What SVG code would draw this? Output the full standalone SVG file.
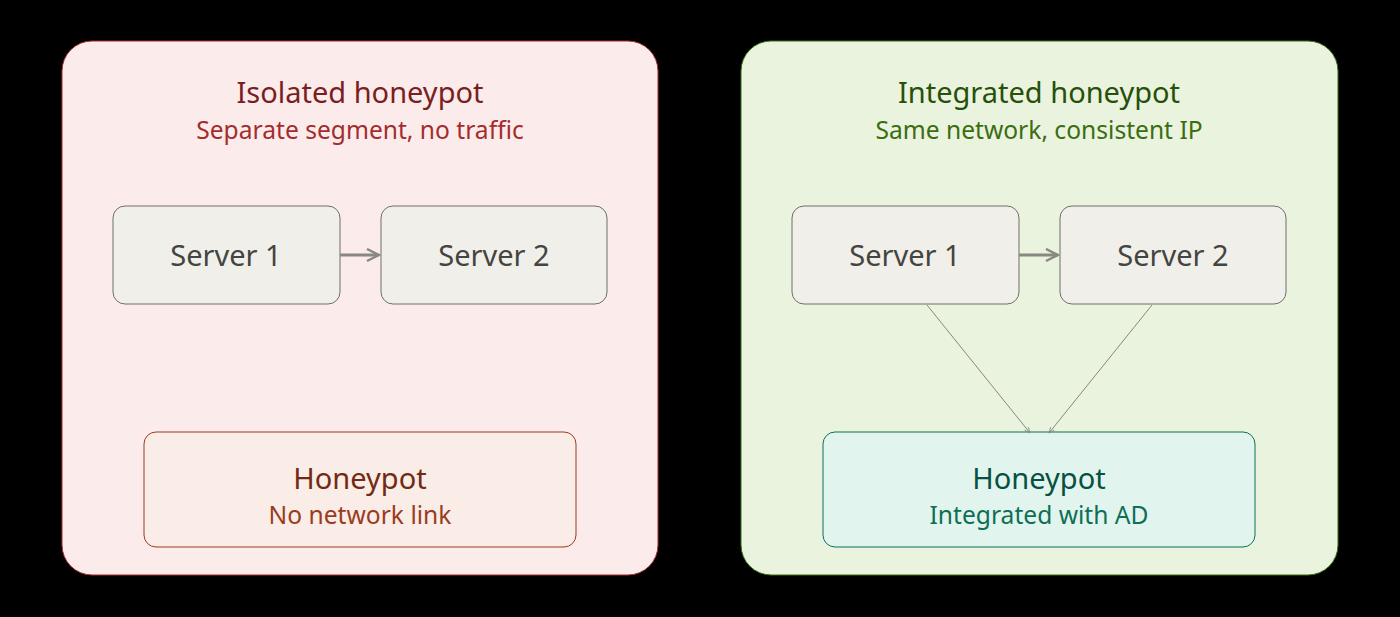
<svg xmlns="http://www.w3.org/2000/svg" width="1400" height="617" viewBox="0 0 1400 617">
<style>
text{font-family:"Noto Sans","Open Sans",sans-serif;text-anchor:middle}
.srv{fill:#f0efe9;stroke:#6e6e68;stroke-width:1}
.st{font-size:29px;fill:#444441}
.t{font-size:29px}
.s{font-size:24.6px}
</style>
<defs>
<marker id="a" viewBox="0 0 10 10" refX="9" refY="5" markerWidth="5" markerHeight="5" orient="auto"><path d="M1 1L9 5L1 9" fill="none" stroke="#888780" stroke-width="1.6"/></marker>
<marker id="b" viewBox="0 0 10 10" refX="9" refY="5" markerWidth="8" markerHeight="8" orient="auto"><path d="M2 2L9 5L2 8" fill="none" stroke="#888780" stroke-width="1"/></marker>
</defs>
<rect width="1400" height="617" fill="#000"/>
<g id="isolated">
<rect x="62" y="41" width="596" height="534" rx="30" fill="#fcebeb" stroke="#a32d2d" stroke-width="1"/>
<text x="360" y="103" class="t" fill="#791f1f">Isolated honeypot</text>
<text x="360" y="139" class="s" fill="#a32d2d">Separate segment, no traffic</text>
</g>
<g id="integrated">
<rect x="741" y="41" width="597" height="534" rx="30" fill="#eaf3de" stroke="#3b6d11" stroke-width="1"/>
<text x="1039" y="103" class="t" fill="#27500a">Integrated honeypot</text>
<text x="1039" y="139" class="s" fill="#3b6d11">Same network, consistent IP</text>
</g>
<g id="l-server1"><rect class="srv" x="113" y="206" width="227" height="98" rx="12"/><text class="st" x="226" y="266">Server 1</text></g>
<g id="l-server2"><rect class="srv" x="381" y="206" width="226" height="98" rx="12"/><text class="st" x="494" y="266">Server 2</text></g>
<g id="l-honeypot"><rect x="144" y="432" width="432" height="115" rx="12" fill="#faece7" stroke="#993c1d" stroke-width="1"/>
<text x="360" y="489" class="t" fill="#712b13">Honeypot</text><text x="360" y="524" class="s" fill="#993c1d">No network link</text></g>
<g id="r-server1"><rect class="srv" x="792" y="206" width="227" height="98" rx="12"/><text class="st" x="905" y="266">Server 1</text></g>
<g id="r-server2"><rect class="srv" x="1060" y="206" width="226" height="98" rx="12"/><text class="st" x="1173" y="266">Server 2</text></g>
<g id="r-honeypot"><rect x="823" y="432" width="432" height="115" rx="12" fill="#e1f5ee" stroke="#0f6e56" stroke-width="1"/>
<text x="1039" y="489" class="t" fill="#085041">Honeypot</text><text x="1039" y="524" class="s" fill="#0f6e56">Integrated with AD</text></g>
<g id="connectors" stroke="#888780" fill="none">
<line x1="340" y1="255" x2="379" y2="255" stroke-width="3" marker-end="url(#a)"/>
<line x1="1019" y1="255" x2="1058" y2="255" stroke-width="3" marker-end="url(#a)"/>
<line x1="927" y1="305" x2="1030" y2="433" stroke-width="1" marker-end="url(#b)"/>
<line x1="1152" y1="305" x2="1049" y2="433" stroke-width="1" marker-end="url(#b)"/>
</g>
</svg>
